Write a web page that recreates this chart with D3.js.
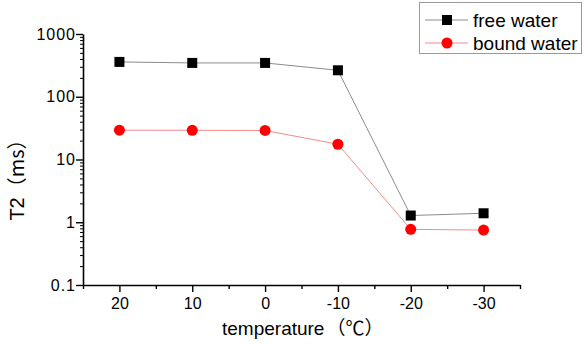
<!DOCTYPE html>
<html>
<head>
<meta charset="utf-8">
<script src="https://cdn.jsdelivr.net/npm/d3@7"></script>
<style>
  body { margin: 0; background: #fff; }
  text { font-family: "Liberation Sans", Arial, sans-serif; }
  .cjk { font-family: "Noto Sans CJK SC", sans-serif; }
</style>
</head>
<body>
<div id="chart"></div>
<script>
(function () {
    'use strict';

    var temperatures = [20, 10, 0, -10, -20, -30];
    var freeWater = [359, 346, 346, 264, 1.28, 1.39];
    var boundWater = [29.3, 29.2, 29.0, 17.5, 0.77, 0.75];
    var yTicks = [0.1, 1, 10, 100, 1000];
    var xTicks = [20, 10, 0, -10, -20, -30];
    var xMinorTicks = [25, 15, 5, -5, -15, -25, -35];

    var series = [
        { name: 'free water', values: freeWater, line: '#8c8c8c', marker: 'square', fill: '#000' },
        { name: 'bound water', values: boundWater, line: '#f28b8b', marker: 'circle', fill: '#f00' }
    ];

    var width = 588, height = 344;
    var margin = { left: 83, right: 68, top: 34, bottom: 59 };

    var svg = d3.select('#chart').append('svg')
        .attr('width', width)
        .attr('height', height);

    var x = d3.scaleLinear()
        .domain([25, -35])
        .range([margin.left, width - margin.right]);
    var y = d3.scaleLog()
        .domain([0.1, 1000])
        .range([height - margin.bottom, margin.top]);

    // minor log ticks 2..9 in each decade
    var yMinor = [];
    yTicks.slice(0, -1).forEach(function (t) {
        for (var k = 2; k <= 9; k++) { yMinor.push(t * k); }
    });

    var axisColor = '#000';

    svg.append('g')
        .attr('transform', 'translate(' + margin.left + ',0)')
        .call(d3.axisLeft(y).tickValues(yMinor).tickSize(3).tickFormat(''))
        .call(function (g) { g.select('.domain').remove(); })
        .selectAll('line').attr('stroke', axisColor).attr('stroke-width', 1);

    var yAxis = svg.append('g')
        .attr('transform', 'translate(' + margin.left + ',0)')
        .call(d3.axisLeft(y).tickValues(yTicks).tickSize(7).tickSizeOuter(0).tickPadding(0)
            .tickFormat(function (d) { return d3.format('~g')(d); }));
    yAxis.select('.domain').attr('stroke', axisColor).attr('stroke-width', 1.6);
    yAxis.selectAll('.tick line').attr('stroke', axisColor).attr('stroke-width', 1.4);
    yAxis.selectAll('.tick text').attr('fill', '#000').style('font-size', '16px').attr('letter-spacing', '1px');

    svg.append('g')
        .attr('transform', 'translate(0,' + (height - margin.bottom) + ')')
        .call(d3.axisBottom(x).tickValues(xMinorTicks).tickSize(4).tickFormat(''))
        .call(function (g) { g.select('.domain').remove(); })
        .selectAll('line').attr('stroke', axisColor).attr('stroke-width', 1.4);

    // plain hyphen for negatives, as in the printed axis
    var xAxis = svg.append('g')
        .attr('transform', 'translate(0,' + (height - margin.bottom) + ')')
        .call(d3.axisBottom(x).tickValues(xTicks).tickSize(7).tickSizeOuter(0).tickPadding(6)
            .tickFormat(function (d) { return String(d); }));
    xAxis.select('.domain').attr('stroke', axisColor).attr('stroke-width', 1.6);
    xAxis.selectAll('.tick line').attr('stroke', axisColor).attr('stroke-width', 1.4);
    xAxis.selectAll('.tick text').attr('fill', '#000').style('font-size', '16px');

    var xTitle = svg.append('text')
        .attr('x', 222)
        .attr('y', 335)
        .style('font-size', '19px');
    xTitle.append('tspan').text('temperature');
    xTitle.append('tspan').attr('class', 'cjk').attr('dx', 2).text('（℃）');

    var yTitle = svg.append('text')
        .attr('transform', 'translate(24,' + 175 + ') rotate(-90)')
        .attr('text-anchor', 'middle')
        .style('font-size', '20px');
    yTitle.append('tspan').text('T2');
    yTitle.append('tspan').attr('class', 'cjk').text('（ms）');

    var line = d3.line()
        .x(function (d, i) { return x(temperatures[i]); })
        .y(function (d) { return y(d); });

    function drawMarker(g, s, cx, cy) {
        if (s.marker === 'square') {
            g.append('rect')
                .attr('x', cx - 5).attr('y', cy - 5)
                .attr('width', 10).attr('height', 10)
                .attr('fill', s.fill);
        } else {
            g.append('circle')
                .attr('cx', cx).attr('cy', cy).attr('r', 5.5)
                .attr('fill', s.fill);
        }
    }

    series.forEach(function (s) {
        var g = svg.append('g');
        g.append('path')
            .datum(s.values)
            .attr('d', line)
            .attr('fill', 'none')
            .attr('stroke', s.line)
            .attr('stroke-width', 1);
        s.values.forEach(function (v, i) {
            drawMarker(g, s, x(temperatures[i]), y(v));
        });
    });

    // legend
    var legend = svg.append('g');
    legend.append('rect')
        .attr('x', 419.5).attr('y', 2.5)
        .attr('width', 162).attr('height', 51)
        .attr('fill', '#fff')
        .attr('stroke', '#999')
        .attr('stroke-width', 1);
    series.forEach(function (s, i) {
        var ly = 20 + i * 23;
        legend.append('line')
            .attr('x1', 425).attr('x2', 468)
            .attr('y1', ly).attr('y2', ly)
            .attr('stroke', s.line).attr('stroke-width', 1);
        drawMarker(legend, s, 447, ly);
        legend.append('text')
            .attr('x', 473).attr('y', ly + 6.5)
            .style('font-size', '19px')
            .text(s.name);
    });
}());
</script>
</body>
</html>
